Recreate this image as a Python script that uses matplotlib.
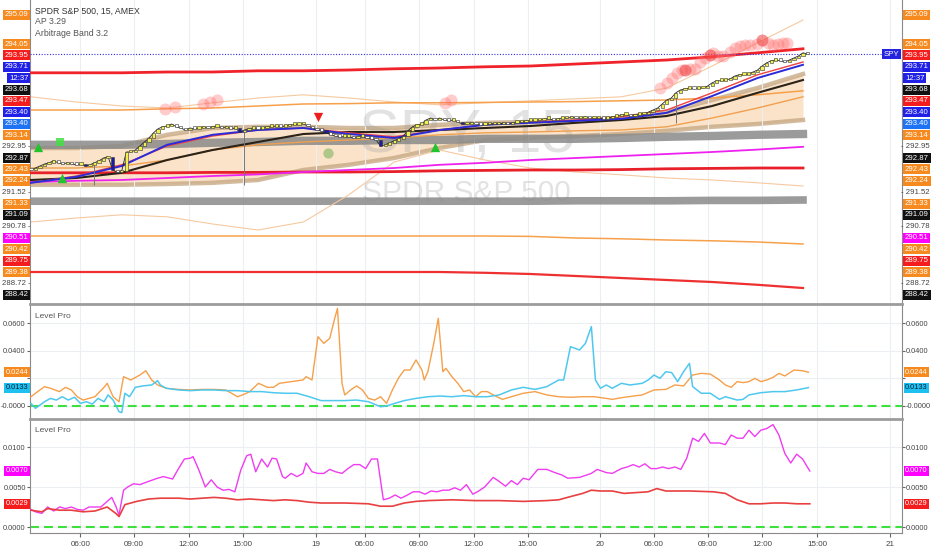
import matplotlib
matplotlib.use("Agg")
import matplotlib.pyplot as plt
import numpy as np
from matplotlib.transforms import blended_transform_factory

plt.rcParams["font.family"] = ["Liberation Sans", "DejaVu Sans"]

W, H = 932, 550

# ---------------- main panel (price, 15 min bars) ----------------
closes = [
    291.05, 291.10, 291.15, 291.20, 291.23, 291.28, 291.23, 291.20, 291.23, 291.20,
    291.18, 291.20, 291.15, 291.18, 291.23, 291.28, 291.35, 291.38, 291.05, 291.00,
    291.03, 291.50, 291.50, 291.55, 291.65, 291.75, 291.85, 291.98, 292.08, 292.13,
    292.15, 292.20, 292.13, 292.10, 292.05, 292.10, 292.08, 292.10, 292.13, 292.10,
    292.13, 292.15, 292.10, 292.13, 292.08, 292.10, 292.00, 292.05, 292.08, 292.10,
    292.08, 292.10, 292.13, 292.13, 292.15, 292.13, 292.15, 292.18, 292.18, 292.20,
    292.20, 292.15, 292.10, 292.05, 292.03, 291.98, 291.93, 291.90, 291.88, 291.88,
    291.88, 291.85, 291.88, 291.88, 291.85, 291.83, 291.80, 291.65, 291.68, 291.73,
    291.78, 291.83, 291.90, 292.03, 292.13, 292.18, 292.20, 292.30, 292.35, 292.30,
    292.35, 292.30, 292.28, 292.30, 292.25, 292.20, 292.20, 292.23, 292.20, 292.18,
    292.20, 292.20, 292.20, 292.20, 292.23, 292.20, 292.23, 292.25, 292.25, 292.28,
    292.28, 292.30, 292.30, 292.33, 292.33, 292.30, 292.33, 292.35, 292.35, 292.38,
    292.35, 292.35, 292.38, 292.35, 292.35, 292.35, 292.33, 292.35, 292.38, 292.40,
    292.43, 292.43, 292.40, 292.43, 292.45, 292.45, 292.50, 292.55, 292.60, 292.70,
    292.80, 292.85, 292.98, 293.05, 293.08, 293.10, 293.08, 293.10, 293.10, 293.15,
    293.23, 293.28, 293.28, 293.30, 293.33, 293.40, 293.43, 293.43, 293.45, 293.50,
    293.55, 293.65, 293.73, 293.78, 293.80, 293.78, 293.75, 293.80, 293.85, 293.90,
    293.98, 293.95,
]
blue_bars = [12, 18, 46, 65, 77, 95]
wick_bars = [14, 21, 47, 142]
wick_lows = [290.68, 291.03, 290.68, 292.23]

# indicator lines, one value every 10 bars
red_upper = [293.48, 293.48, 293.48, 293.50, 293.50, 293.53, 293.53, 293.55, 293.58,
             293.60, 293.63, 293.65, 293.70, 293.75, 293.80, 293.88, 293.98, 294.08]
orange_upper = [292.55, 292.55, 292.55, 292.58, 292.60, 292.65, 292.70, 292.71, 292.73,
                292.73, 292.74, 292.75, 292.76, 292.78, 292.80, 292.85, 292.93, 293.03]
env_upper = [292.88, 292.75, 292.65, 292.60, 292.73, 292.85, 292.93, 292.85, 292.75,
             292.68, 292.73, 292.78, 292.83, 292.88, 293.10, 293.65, 294.23, 294.80]
env_lower = [289.75, 289.85, 289.93, 289.88, 289.70, 289.55, 289.75, 290.43, 291.25,
             291.55, 291.30, 291.10, 291.00, 290.93, 290.85, 290.80, 290.73, 290.65]
gray_upper = [291.68, 291.68, 291.68, 291.70, 291.73, 291.75, 291.78, 291.78, 291.80,
              291.80, 291.83, 291.83, 291.83, 291.85, 291.88, 291.90, 291.93, 291.95]
gray_lower = [290.27, 290.27, 290.27, 290.27, 290.27, 290.27, 290.27, 290.27, 290.27,
              290.27, 290.27, 290.27, 290.28, 290.28, 290.28, 290.29, 290.29, 290.30]
orange_lower = [289.40, 289.40, 289.40, 289.40, 289.40, 289.40, 289.40, 289.40, 289.40,
                289.40, 289.40, 289.39, 289.35, 289.33, 289.30, 289.28, 289.25, 289.20]
red_lower = [288.50, 288.50, 288.50, 288.50, 288.50, 288.50, 288.50, 288.50, 288.50,
             288.50, 288.48, 288.45, 288.40, 288.35, 288.30, 288.25, 288.18, 288.10]
magenta = [290.75, 290.78, 290.80, 290.85, 290.90, 290.94, 291.00, 291.05, 291.10,
           291.18, 291.23, 291.30, 291.35, 291.40, 291.45, 291.50, 291.56, 291.63]
red_mid = [290.98, 290.98, 290.98, 290.98, 290.99, 290.99, 291.00, 291.00, 291.01,
           291.03, 291.04, 291.05, 291.05, 291.06, 291.08, 291.09, 291.10, 291.10]
blue_ma = [290.73, 290.88, 291.15, 291.68, 291.93, 292.05, 292.10, 291.95, 291.85,
           292.05, 292.18, 292.23, 292.28, 292.33, 292.48, 292.90, 293.35, 293.68]
red_ma = [290.73, 290.90, 291.18, 291.65, 291.90, 292.05, 292.10, 291.98, 291.88,
          292.05, 292.18, 292.25, 292.30, 292.38, 292.55, 292.98, 293.43, 293.75]
black_ma = [290.80, 290.85, 290.98, 291.30, 291.55, 291.75, 291.95, 292.00, 292.00,
            292.05, 292.10, 292.15, 292.23, 292.30, 292.40, 292.65, 292.98, 293.30]
band_top = [291.60, 291.60, 291.65, 291.93, 292.10, 292.13, 292.13, 292.10, 292.10,
            292.18, 292.23, 292.25, 292.30, 292.35, 292.50, 292.80, 293.10, 293.45]
band_bot = [290.68, 290.68, 290.68, 290.70, 290.73, 290.80, 291.05, 291.18, 291.35,
            291.60, 291.80, 291.85, 291.90, 291.95, 292.03, 292.13, 292.20, 292.30]
band_mid = [291.10, 291.10, 291.15, 291.30, 291.55, 291.68, 291.75, 291.80, 291.85,
            291.93, 291.98, 292.00, 292.03, 292.05, 292.13, 292.35, 292.60, 292.88]

# signal markers
sell_dots_x = [29.5, 31.7, 37.9, 39.4, 41.0, 91.2, 92.5, 138.5, 140.0, 141.1, 142.2,
               143.3, 145.1, 146.2, 147.3, 148.4, 150.2, 151.3, 152.4, 153.9, 155.0,
               156.1, 157.2, 158.3, 159.8, 162.3, 163.4, 164.5, 165.6, 166.4]
sell_dots_y = [292.58, 292.63, 292.70, 292.75, 292.80, 292.73, 292.80, 293.09, 293.22,
               293.34, 293.47, 293.55, 293.57, 293.57, 293.76, 293.84, 293.97, 293.90,
               293.90, 294.01, 294.09, 294.15, 294.18, 294.18, 294.20, 294.22, 294.18,
               294.20, 294.22, 294.22]
strong_dots_x = [144.0, 149.5, 160.9]
strong_dots_y = [293.55, 293.93, 294.30]
up_tri_x = [1.6, 6.8, 89.0]
up_tri_y = [291.63, 290.85, 291.63]
down_tri_x = [63.2]
down_tri_y = [292.38]

left_labels = ["295.09", "294.05", "293.95", "293.71", "12:37", "293.68", "293.47",
               "293.40", "293.40", "293.14", "292.95", "292.87", "292.43", "292.24",
               "291.52", "291.33", "291.09", "290.78", "290.51", "290.42", "289.75",
               "289.38", "288.72", "288.42"]
label_colors = ["#f68a1e", "#f68a1e", "#f41c1c", "#2020e6", "#2020e6", "#111111",
                "#f41c1c", "#2020e6", "#1e73f5", "#f68a1e", None, "#111111",
                "#f68a1e", "#f68a1e", None, "#f68a1e", "#111111", None, "#ff00ff",
                "#f68a1e", "#f41c1c", "#f68a1e", None, "#111111"]

# ---------------- Level Pro panels ----------------
lp1_orange_x = [0, 1.0, 3.0, 4.3, 6.3, 7.6, 8.9, 10.2, 11.5, 12.8, 14.1, 14.8, 16.1, 16.8,
                18.1, 19.4, 20.4, 22.0, 24.0, 25.3, 26.6, 27.9, 29.8, 32.5, 35.1, 37.7,
                40.3, 42.9, 45.5, 46.9, 48.2, 50.1, 52.1, 53.4, 54.7, 57.3, 59.9, 60.6,
                61.9, 63.2, 64.5, 65.8, 66.8, 67.5, 68.5, 69.1, 70.4, 71.7, 73.0, 74.3,
                75.7, 77.0, 78.3, 79.6, 80.9, 82.2, 83.5, 84.8, 86.1, 86.6, 87.4, 88.7,
                89.7, 90.7, 91.4, 92.7, 94.0, 95.3, 96.6, 97.9, 99.2, 100.5, 101.8, 103.8,
                105.8, 108.4, 111.0, 113.6, 116.2, 118.8, 121.5, 124.1, 126.7, 128.0,
                130.6, 134.6, 137.2, 139.8, 141.8, 143.7, 145.7, 147.6, 149.6, 151.6,
                152.9, 154.2, 155.5, 156.8, 158.1, 159.4, 160.7, 162.0, 163.4, 164.7,
                166.0, 168.0, 169.9, 171.2]
lp1_orange = [0.0067, 0.0092, 0.0140, 0.0128, 0.0104, 0.0135, 0.0116, 0.0067, 0.0043,
              0.0055, 0.0067, 0.0092, 0.0135, 0.0164, 0.0067, 0.0031, 0.0212, 0.0188,
              0.0224, 0.0255, 0.0188, 0.0152, 0.0128, 0.0120, 0.0116, 0.0120, 0.0120,
              0.0116, 0.0067, 0.0084, 0.0104, 0.0164, 0.0135, 0.0135, 0.0164, 0.0176,
              0.0188, 0.0212, 0.0188, 0.0501, 0.0453, 0.0489, 0.0622, 0.0706, 0.0164,
              0.0080, 0.0116, 0.0145, 0.0116, 0.0055, 0.0043, 0.0067, 0.0019, 0.0116,
              0.0200, 0.0260, 0.0260, 0.0333, 0.0260, 0.0188, 0.0248, 0.0453, 0.0634,
              0.0248, 0.0272, 0.0212, 0.0164, 0.0104, 0.0116, 0.0067, 0.0104, 0.0104,
              0.0080, 0.0048, 0.0067, 0.0092, 0.0104, 0.0080, 0.0067, 0.0063, 0.0067,
              0.0067, 0.0055, 0.0048, 0.0063, 0.0080, 0.0116, 0.0120, 0.0152, 0.0145,
              0.0224, 0.0236, 0.0231, 0.0188, 0.0152, 0.0135, 0.0176, 0.0169, 0.0176,
              0.0200, 0.0176, 0.0188, 0.0207, 0.0236, 0.0217, 0.0260, 0.0255, 0.0244]
lp1_blue_x = [0, 1.0, 3.0, 4.3, 5.6, 6.9, 8.2, 9.6, 10.9, 12.2, 13.5, 14.8, 16.1, 17.0,
              18.1, 19.4, 20.0, 20.7, 21.7, 23.0, 24.6, 26.6, 27.9, 28.5, 29.8, 32.5,
              35.1, 37.7, 40.3, 42.9, 45.5, 48.2, 50.8, 53.4, 56.0, 58.6, 61.3, 63.9,
              66.5, 69.1, 71.7, 74.3, 77.0, 78.3, 79.6, 82.2, 84.8, 87.4, 90.1, 92.7,
              95.3, 97.9, 100.5, 103.1, 105.8, 108.4, 111.0, 113.6, 116.2, 117.3, 118.8,
              120.8, 122.1, 123.4, 124.3, 125.4, 126.7, 128.0, 130.0, 131.9, 134.6,
              135.9, 137.2, 138.5, 139.8, 141.1, 142.4, 143.7, 145.0, 145.7, 147.6,
              149.6, 151.6, 152.9, 155.5, 156.8, 158.1, 160.7, 163.4, 166.0, 168.6, 171.2]
lp1_blue = [0.0019, -0.0017, 0.0031, 0.0055, 0.0043, 0.0067, 0.0043, 0.0063, 0.0019,
            0.0031, 0.0014, 0.0055, 0.0031, 0.0080, 0.0043, -0.0041, -0.0048, 0.0092,
            0.0067, 0.0135, 0.0145, 0.0152, 0.0183, 0.0152, 0.0128, 0.0116, 0.0111,
            0.0116, 0.0116, 0.0111, 0.0111, 0.0104, 0.0104, 0.0096, 0.0092, 0.0092,
            0.0067, 0.0039, 0.0039, 0.0039, 0.0043, 0.0031, -0.0005, 0.0000, 0.0014,
            0.0039, 0.0055, 0.0067, 0.0072, 0.0067, 0.0075, 0.0067, 0.0067, 0.0080,
            0.0116, 0.0135, 0.0120, 0.0140, 0.0188, 0.0188, 0.0429, 0.0405, 0.0453,
            0.0574, 0.0188, 0.0128, 0.0152, 0.0128, 0.0164, 0.0152, 0.0164, 0.0188,
            0.0224, 0.0200, 0.0248, 0.0241, 0.0176, 0.0248, 0.0308, 0.0140, 0.0092,
            0.0092, 0.0048, 0.0067, 0.0043, 0.0048, 0.0080, 0.0096, 0.0104, 0.0104,
            0.0116, 0.0133]

lp2_magenta_x = [0, 1.0, 2.4, 3.7, 5.0, 6.3, 7.6, 8.9, 10.2, 11.5, 12.8, 14.1, 15.4, 16.8,
                 17.8, 18.7, 19.4, 20.4, 21.3, 22.6, 24.0, 25.9, 27.9, 29.2, 31.2, 32.5,
                 33.8, 35.1, 35.7, 37.0, 38.4, 39.7, 41.0, 42.3, 43.6, 44.9, 46.2, 47.5,
                 48.4, 49.5, 50.8, 52.1, 53.1, 54.1, 55.4, 56.0, 57.3, 58.6, 59.9, 60.6,
                 61.9, 63.2, 64.5, 65.8, 67.1, 68.5, 69.8, 71.1, 72.4, 73.7, 75.0, 76.3,
                 77.6, 78.9, 80.2, 81.5, 82.9, 84.2, 85.5, 86.8, 88.1, 89.4, 90.7, 92.0,
                 93.3, 94.6, 95.9, 97.3, 98.6, 99.9, 101.8, 103.1, 104.5, 105.8, 107.1,
                 108.4, 109.7, 111.6, 113.6, 114.9, 116.9, 118.2, 120.8, 123.4, 124.7,
                 126.7, 128.0, 130.0, 131.3, 132.6, 133.9, 135.2, 136.5, 137.8, 139.1,
                 140.4, 141.8, 143.1, 144.4, 145.7, 147.0, 148.3, 149.6, 151.6, 152.9,
                 154.2, 155.5, 156.8, 158.1, 159.4, 160.7, 162.0, 163.4, 164.7, 166.0,
                 167.3, 168.6, 169.9, 171.5]
lp2_magenta = [0.0022, 0.0019, 0.0017, 0.0025, 0.0020, 0.0025, 0.0023, 0.0025, 0.0022,
               0.0021, 0.0025, 0.0025, 0.0025, 0.0032, 0.0037, 0.0026, 0.0015, 0.0046,
               0.0050, 0.0054, 0.0053, 0.0057, 0.0061, 0.0063, 0.0060, 0.0073, 0.0085,
               0.0086, 0.0088, 0.0071, 0.0050, 0.0059, 0.0050, 0.0046, 0.0047, 0.0044,
               0.0071, 0.0089, 0.0091, 0.0069, 0.0085, 0.0075, 0.0086, 0.0085, 0.0063,
               0.0061, 0.0067, 0.0063, 0.0067, 0.0080, 0.0069, 0.0067, 0.0067, 0.0072,
               0.0069, 0.0067, 0.0073, 0.0078, 0.0078, 0.0073, 0.0085, 0.0085, 0.0034,
               0.0036, 0.0040, 0.0036, 0.0040, 0.0044, 0.0044, 0.0041, 0.0045, 0.0044,
               0.0046, 0.0046, 0.0049, 0.0046, 0.0053, 0.0041, 0.0045, 0.0050, 0.0062,
               0.0057, 0.0051, 0.0058, 0.0053, 0.0061, 0.0059, 0.0072, 0.0072, 0.0069,
               0.0065, 0.0061, 0.0062, 0.0067, 0.0072, 0.0068, 0.0067, 0.0073, 0.0075,
               0.0078, 0.0075, 0.0079, 0.0073, 0.0073, 0.0075, 0.0073, 0.0075, 0.0072,
               0.0086, 0.0111, 0.0107, 0.0117, 0.0105, 0.0105, 0.0103, 0.0115, 0.0111,
               0.0111, 0.0121, 0.0113, 0.0121, 0.0123, 0.0128, 0.0115, 0.0092, 0.0080,
               0.0091, 0.0085, 0.0070]
lp2_red_x = [0, 2.4, 3.7, 6.3, 8.9, 11.5, 14.1, 16.8, 18.7, 19.4, 20.7, 23.3, 25.9, 28.5,
             32.5, 35.1, 37.7, 40.3, 42.9, 45.5, 48.2, 50.8, 53.4, 56.0, 58.6, 61.3, 63.9,
             69.1, 74.3, 77.0, 79.6, 82.2, 84.8, 87.4, 92.7, 97.9, 103.1, 108.4, 113.6,
             116.2, 118.8, 121.5, 123.4, 125.4, 128.0, 130.6, 133.2, 135.9, 137.8, 139.8,
             145.0, 150.3, 152.9, 155.5, 158.1, 160.7, 163.4, 166.0, 168.6, 171.5]
lp2_red = [0.0021, 0.0019, 0.0023, 0.0021, 0.0021, 0.0019, 0.0020, 0.0025, 0.0017, 0.0013,
           0.0028, 0.0032, 0.0035, 0.0036, 0.0036, 0.0035, 0.0036, 0.0037, 0.0036, 0.0034,
           0.0035, 0.0034, 0.0033, 0.0034, 0.0033, 0.0031, 0.0030, 0.0030, 0.0029, 0.0026,
           0.0026, 0.0030, 0.0032, 0.0033, 0.0034, 0.0033, 0.0033, 0.0032, 0.0033, 0.0034,
           0.0038, 0.0042, 0.0046, 0.0045, 0.0045, 0.0042, 0.0043, 0.0044, 0.0048, 0.0045,
           0.0045, 0.0044, 0.0042, 0.0034, 0.0029, 0.0029, 0.0030, 0.0030, 0.0029, 0.0029]

tick_pos = [10.9, 22.6, 34.7, 46.6, 62.7, 73.6, 85.4, 97.5, 109.4, 125.4, 137.1, 149.0,
            161.0, 173.1, 189.1]
tick_labels = ["06:00", "09:00", "12:00", "15:00", "19", "06:00", "09:00", "12:00",
               "15:00", "20", "06:00", "09:00", "12:00", "15:00", "21"]


def fx(px):
    return px / W


def fy(py):
    return 1 - py / H


fig = plt.figure(figsize=(W / 100, H / 100), dpi=100)
fig.patch.set_facecolor("white")

ax = fig.add_axes([fx(30), fy(303.5), fx(902) - fx(30), 303.5 / H])
ax1 = fig.add_axes([fx(30), fy(418), fx(902) - fx(30), 114 / H])
ax2 = fig.add_axes([fx(30), fy(533), fx(902) - fx(30), 114 / H])

for a in (ax, ax1, ax2):
    a.set_xlim(-0.2, 191.8)
    a.set_xticks(tick_pos)
    a.grid(axis="x", color="#eceef2", lw=0.8, zorder=0)
    for s in a.spines.values():
        s.set_color("#8a8a8a")
        s.set_linewidth(0.8)
    a.tick_params(axis="x", length=0, labelbottom=False)

ax.set_ylim(295.30 - 303.5 / 40, 295.30)
ax.set_yticks([])
ax.spines["top"].set_visible(False)
ax.spines["bottom"].set_visible(False)
for a in (ax1, ax2):
    a.spines["top"].set_color("#9c9c9c")
    a.spines["top"].set_linewidth(2)
ax1.spines["bottom"].set_visible(False)

# ---- main panel ----
knots = np.arange(0, 180, 10)
bars = np.arange(len(closes))
c = np.array(closes)
o = np.concatenate([[c[0] + 0.05], c[:-1]])

ax.text(0.501, 0.55, "SPY, 15", transform=ax.transAxes, ha="center", va="center",
        fontsize=44, color="#9a9a9a", alpha=0.28, zorder=1.8)
ax.text(0.501, 0.364, "SPDR S&P 500", transform=ax.transAxes, ha="center", va="center",
        fontsize=21.5, color="#9a9a9a", alpha=0.28, zorder=1.8)

ax.fill_between(knots, band_bot, band_top, color="#f9dcbc", alpha=0.8, lw=0, zorder=1)
ax.plot(knots, band_top, color="#c4a57f", lw=3.2, alpha=0.75, zorder=1.5)
ax.plot(knots, band_bot, color="#c4a57f", lw=3.2, alpha=0.75, zorder=1.5)
ax.plot(knots, gray_upper, color="#8a8a8a", lw=6, alpha=0.85, zorder=2)
ax.plot(knots, gray_lower, color="#8a8a8a", lw=5.5, alpha=0.85, zorder=2)
ax.plot(knots, env_upper, color="#f6c9a0", lw=0.8, zorder=2.2)
ax.plot(knots, env_lower, color="#f6c9a0", lw=0.8, zorder=2.2)
ax.plot(knots, orange_upper, color="#f7a04b", lw=1.1, zorder=2.5)
ax.plot(knots, orange_lower, color="#f7a04b", lw=1.1, zorder=2.5)
ax.plot(knots, band_mid, color="#f0a050", lw=1.0, zorder=2.5)
ax.plot(knots, red_upper, color="#f0222a", lw=2.0, zorder=2.6)
ax.plot(knots, red_mid, color="#e8202a", lw=2.0, zorder=2.6)
ax.plot(knots, red_lower, color="#ee3030", lw=1.6, zorder=2.6)
ax.plot(knots, magenta, color="#ee22ee", lw=1.3, zorder=2.6)
ax.plot(knots, black_ma, color="#2b2218", lw=1.5, zorder=2.8)
ax.plot(knots, red_ma, color="#f04040", lw=1.0, zorder=2.8)
ax.plot(knots, blue_ma, color="#2b2bd8", lw=1.4, zorder=2.9)

ax.axhline(c[-1], color="#3030e0", lw=0.8, ls=(0, (1, 1.5)), zorder=3)

# candles
body_lo = np.minimum(o, c)
body_h = np.maximum(np.abs(c - o), 0.06)
cols = np.where(c >= o, "#f0f050", "#ffffff").astype(object)
cols[blue_bars] = "#1c1c9c"
ax.vlines(wick_bars, wick_lows, np.maximum(o, c)[wick_bars], color="#777777",
          lw=0.7, zorder=3.4)
ax.plot(bars, c, color="#222222", lw=0.6, zorder=3.5)
ax.bar(bars, body_h, bottom=body_lo, width=0.72, color=list(cols), edgecolor="#333333",
       linewidth=0.4, zorder=3.6)

ax.scatter(sell_dots_x, sell_dots_y, s=75, color="#ff6b6b", alpha=0.35, lw=0, zorder=4)
ax.scatter(strong_dots_x, strong_dots_y, s=75, color="#f03c3c", alpha=0.55, lw=0, zorder=4)
ax.scatter(up_tri_x, up_tri_y, s=45, marker="^", color="#22c32e", lw=0, zorder=4.2)
ax.scatter(down_tri_x, down_tri_y, s=45, marker="v", color="#ee1c1c", lw=0, zorder=4.2)
ax.scatter([6.4], [291.75], s=40, marker="s", color="#44e044", alpha=0.85, lw=0, zorder=4.2)
ax.scatter([65.4], [291.48], s=55, color="#9cc07a", alpha=0.8, lw=0, zorder=4.2)

# ---- Level Pro 1 ----
ax1.set_ylim(-0.00868, 0.07375)
ax1.plot(lp1_orange_x, lp1_orange, color="#f5a04a", lw=1.0, zorder=3)
ax1.plot(lp1_blue_x, lp1_blue, color="#4fc8ee", lw=1.1, zorder=3)
ax1.axhline(0, color="#3ee03e", lw=1.5, dashes=(4.3, 2.4), zorder=2)
ax1.set_yticks([0.06, 0.04, 0.02, 0.0], ["0.0600", "0.0400", "", "-0.0000"])
ax1.grid(axis="y", color="#eceef2", lw=0.8, zorder=0)

# ---- Level Pro 2 ----
ax2.set_ylim(-0.00075, 0.0135)
ax2.plot(lp2_magenta_x, lp2_magenta, color="#f03cf0", lw=1.0, zorder=3)
ax2.plot(lp2_red_x, lp2_red, color="#e84040", lw=1.2, zorder=3)
ax2.axhline(0, color="#3ee03e", lw=1.5, dashes=(4.3, 2.4), zorder=2)
ax2.set_yticks([0.01, 0.005, 0.0], ["0.0100", "0.0050", "0.0000"])
ax2.grid(axis="y", color="#eceef2", lw=0.8, zorder=0)
ax2.set_xticks(tick_pos, tick_labels)
ax2.tick_params(axis="x", length=3, color="#666666", labelbottom=True, labelsize=5.8,
                labelcolor="#444444", pad=3)

for a in (ax1, ax2):
    a.tick_params(axis="y", left=True, right=True, labelleft=True, labelright=True,
                  length=2, color="#666666", labelsize=5.3, labelcolor="#444444", pad=1)

# ---- text ----
fig.text(fx(35), fy(11), "SPDR S&P 500, 15, AMEX", fontsize=6.3, color="#333333", va="center")
fig.text(fx(35), fy(22), "AP 3.29", fontsize=6.3, color="#555555", va="center")
fig.text(fx(35), fy(33), "Arbitrage Band 3.2", fontsize=6.3, color="#555555", va="center")
fig.text(fx(35), fy(316), "Level Pro", fontsize=6, color="#555555", va="center")
fig.text(fx(35), fy(430), "Level Pro", fontsize=6, color="#555555", va="center")

label_y = [15] + [44 + 11.4 * k for k in range(len(left_labels) - 1)]
for txt, col, y in zip(left_labels, label_colors, label_y):
    if col is None:
        fig.text(fx(31), fy(y), txt + " -", ha="right", va="center", fontsize=5.6,
                 color="#444444")
        fig.text(fx(901), fy(y), "- " + txt, ha="left", va="center", fontsize=5.6,
                 color="#444444")
    else:
        box = dict(boxstyle="square,pad=0.2", fc=col, ec="none")
        fig.text(fx(28.5), fy(y), txt, ha="right", va="center", fontsize=5.6,
                 color="white", bbox=box)
        fig.text(fx(905), fy(y), txt, ha="left", va="center", fontsize=5.6,
                 color="white", bbox=box)

fig.text(fx(899), fy(54), "SPY", ha="right", va="center", fontsize=5.6, color="white",
         bbox=dict(boxstyle="square,pad=0.2", fc="#2424e0", ec="none"))

panel_tags = [(ax1, lp1_orange[-1], "0.0244", "#f68a1e", "white"),
              (ax1, lp1_blue[-1], "0.0133", "#1ec0f0", "#0c2236"),
              (ax2, lp2_magenta[-1], "0.0070", "#ff00ff", "white"),
              (ax2, lp2_red[-1], "0.0029", "#f41c1c", "white")]
for a, val, txt, col, tcol in panel_tags:
    tr = blended_transform_factory(fig.transFigure, a.transData)
    box = dict(boxstyle="square,pad=0.2", fc=col, ec="none")
    fig.text(fx(28.5), val, txt, transform=tr, ha="right", va="center", fontsize=5.3,
             color=tcol, bbox=box)
    fig.text(fx(905), val, txt, transform=tr, ha="left", va="center", fontsize=5.3,
             color=tcol, bbox=box)

fig.savefig("out.png", dpi=100)
